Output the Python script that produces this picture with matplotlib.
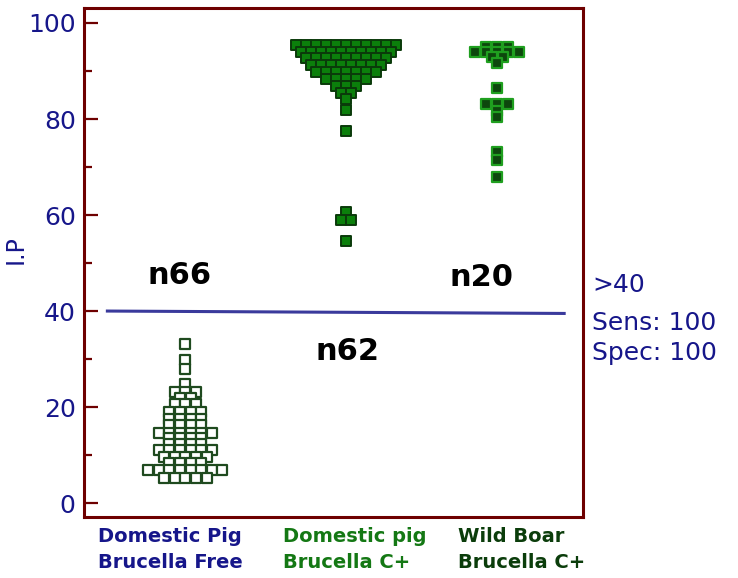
import matplotlib
matplotlib.use("Agg")
import matplotlib.pyplot as plt
import numpy as np
from matplotlib.transforms import blended_transform_factory

# I.P values per group, as (value, count) rows
free_vals = [33.1, 29.8, 27.9, 24.8, 23.2, 21.9, 20.6, 19.0, 17.5, 16.2,
             14.6, 13.5, 12.4, 11.0, 9.5, 8.3, 6.9, 5.3]
free_counts = [1, 1, 1, 1, 3, 2, 3, 4, 4, 4, 6, 4, 4, 6, 5, 4, 8, 5]

dom_vals = [95.4, 94.0, 92.7, 91.2, 89.8, 88.3, 86.8, 85.5, 84.2, 81.9,
            77.5, 60.6, 59.0, 54.6]
dom_counts = [11, 10, 9, 8, 7, 5, 3, 2, 1, 1, 1, 1, 2, 1]

boar_vals = [95.0, 94.0, 93.0, 91.7, 86.5, 83.1, 81.7, 80.4, 73.1, 71.5, 67.9]
boar_counts = [3, 5, 2, 1, 1, 3, 1, 1, 1, 1, 1]

threshold = 40
n_labels = ["n66", "n62", "n20"]
group_labels = [("Domestic Pig", "Brucella Free"),
                ("Domestic pig", "Brucella C+"),
                ("Wild Boar", "Brucella C+")]
yticks = [0, 20, 40, 60, 80, 100]
side_notes = [">40", "Sens: 100", "Spec: 100"]

NAVY = "#16168a"
DARKRED = "#6e0000"


def swarm(center, vals, counts, step):
    """Spread each row of equal values symmetrically around the group centre."""
    xs, ys = [], []
    for v, n in zip(vals, counts):
        offs = (np.arange(n) - (n - 1) / 2.0) * step
        xs.extend(center + offs)
        ys.extend([v] * n)
    return np.array(xs), np.array(ys)


fig = plt.figure(figsize=(7.38, 5.78), dpi=100)
ax = fig.add_axes([0.1138, 0.1055, 0.676, 0.8805])
ax.set_xlim(0.35, 3.55)
ax.set_ylim(-2.9, 103.1)

x1, y1 = swarm(1.0, free_vals, free_counts, 0.068)
x2, y2 = swarm(2.03, dom_vals, dom_counts, 0.064)
x3, y3 = swarm(3.0, boar_vals, boar_counts, 0.07)

ax.scatter(x1, y1, marker="s", s=50, facecolor="white", edgecolor="#1f4a1f",
           linewidth=1.6, zorder=3)
ax.scatter(x2, y2, marker="s", s=55, facecolor="#0b7f0b", edgecolor="#0a3a0a",
           linewidth=1.4, zorder=3)
ax.scatter(x3, y3, marker="s", s=55, facecolor="#0d470d", edgecolor="#1f9f1f",
           linewidth=1.6, zorder=3)

# cut-off line
ax.plot([0.5, 3.43], [threshold, threshold - 0.5], color="#3a3a9c", lw=2.2, zorder=2)

# n labels
ax.text(0.96, 47.5, n_labels[0], fontsize=22, fontweight="bold", ha="center", va="center")
ax.text(2.04, 31.5, n_labels[1], fontsize=22, fontweight="bold", ha="center", va="center")
ax.text(2.90, 47.0, n_labels[2], fontsize=22, fontweight="bold", ha="center", va="center")

# spines and ticks
for sp in ax.spines.values():
    sp.set_color(DARKRED)
    sp.set_linewidth(2.2)
ax.set_xticks([])
ax.set_yticks(yticks)
ax.set_yticks(np.arange(10, 100, 20), minor=True)
ax.tick_params(axis="y", which="major", direction="in", length=10, width=1.6,
               color=DARKRED, labelcolor=NAVY, labelsize=18, pad=6)
ax.tick_params(axis="y", which="minor", direction="in", length=5.5, width=1.6,
               color=DARKRED)
ax.set_ylabel("I.P", color=NAVY, fontsize=17)
ax.yaxis.set_label_coords(-0.112, 0.525)

# notes on the right
tr = blended_transform_factory(fig.transFigure, ax.transData)
ax.text(0.802, 45.5, side_notes[0], transform=tr, color=NAVY, fontsize=18,
        ha="left", va="center")
ax.text(0.802, 37.5, side_notes[1], transform=tr, color=NAVY, fontsize=18,
        ha="left", va="center")
ax.text(0.802, 31.3, side_notes[2], transform=tr, color=NAVY, fontsize=18,
        ha="left", va="center")

# group captions below the axes
label_colors = [NAVY, "#147814", "#0b3d0b"]
label_x = [98 / 738, 283 / 738, 458 / 738]
for (l1, l2), c, xx in zip(group_labels, label_colors, label_x):
    fig.text(xx, 1 - 537 / 578, l1, color=c, fontsize=14, fontweight="bold",
             ha="left", va="center")
    fig.text(xx, 1 - 563 / 578, l2, color=c, fontsize=14, fontweight="bold",
             ha="left", va="center")

fig.savefig("out.png", dpi=100)
